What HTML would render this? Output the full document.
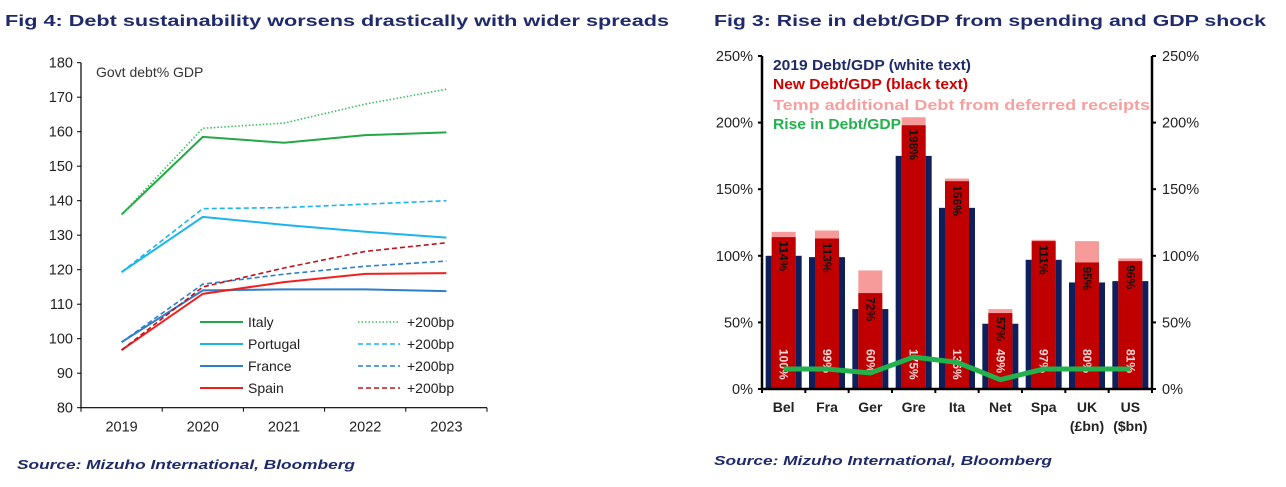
<!DOCTYPE html>
<html><head><meta charset="utf-8"><style>
body{margin:0;background:#fff;width:1286px;height:487px;overflow:hidden;font-family:"Liberation Sans",Arial,sans-serif}
svg{position:absolute;left:0;top:0}
</style></head><body>
<svg id="s" width="1286" height="487" xmlns="http://www.w3.org/2000/svg" font-family="Liberation Sans, Arial, sans-serif">
<text x="5" y="26" font-size="16" font-weight="bold" fill="#1f2a6b" textLength="664" lengthAdjust="spacingAndGlyphs">Fig 4: Debt sustainability worsens drastically with wider spreads</text>
<text x="714" y="26" font-size="16" font-weight="bold" fill="#1f2a6b" textLength="552" lengthAdjust="spacingAndGlyphs">Fig 3: Rise in debt/GDP from spending and GDP shock</text>
<text x="17" y="469" font-size="13" font-weight="bold" font-style="italic" fill="#1f2a6b" textLength="338" lengthAdjust="spacingAndGlyphs">Source:  Mizuho International, Bloomberg</text>
<text x="714" y="465" font-size="13" font-weight="bold" font-style="italic" fill="#1f2a6b" textLength="338" lengthAdjust="spacingAndGlyphs">Source:  Mizuho International, Bloomberg</text>
<g id="left"></g><g id="right"></g>
</svg>
<script>
const NS="http://www.w3.org/2000/svg";
function mk(p,t,a){const e=document.createElementNS(NS,t);for(const k in a)e.setAttribute(k,a[k]);p.appendChild(e);return e;}
// ---- Left chart data ----
const years=["2019","2020","2021","2022","2023"];
const yTicksL=[80,90,100,110,120,130,140,150,160,170,180];
const italy=[136,158.5,156.8,159,159.8];
const italy200=[136,161,162.5,168,172.3];
const portugal=[119.3,135.3,133,131,129.3];
const portugal200=[119.3,137.7,138,139,140];
const france=[99,114,114.3,114.3,113.8];
const france200=[99,115.8,118.7,121,122.5];
const spain=[96.7,113,116.4,118.8,119];
const spain200=[96.7,115,120.5,125.3,127.8];
// ---- Right chart data ----
const countries=["Bel","Fra","Ger","Gre","Ita","Net","Spa","UK","US"];
const countries2=["","","","","","","","(£bn)","($bn)"];
const debt2019=[100,99,60,175,136,49,97,80,81];
const debtNew=[114,113,72,198,156,57,111,95,96];
const debtTemp=[118,119,89,204,158,60,112,111,98];
const riseDebt=[15,15,12,24,20,7,15,15,15];
const yTicksR=[0,50,100,150,200,250];

// left axes
const L=document.getElementById('left');
const lx0=81,lx1=487,ly0=407.7,ly1=62.7;
const ly=v=>ly0-(v-80)/100*(ly0-ly1);
const lx=i=>lx0+(i+0.5)*(lx1-lx0)/5;
let ax=mk(L,'line',{x1:lx0,y1:ly1,x2:lx0,y2:ly0,stroke:'#000','stroke-width':1.2});

ax=mk(L,'line',{x1:lx0,y1:ly0,x2:lx1,y2:ly0,stroke:'#000','stroke-width':1.2});

yTicksL.forEach(v=>{mk(L,'line',{x1:lx0-4,x2:lx0,y1:ly(v),y2:ly(v),stroke:'#000'});
 const t=mk(L,'text',{x:lx0-8,y:ly(v)+5,'text-anchor':'end','font-size':14.5,fill:'#222'});t.textContent=v;
 });
for(let i=0;i<=5;i++){const x=lx0+i*(lx1-lx0)/5;mk(L,'line',{x1:x,x2:x,y1:ly0,y2:ly0+4,stroke:'#000'});}
years.forEach((y,i)=>{const t=mk(L,'text',{x:lx(i),y:ly0+24,'text-anchor':'middle','font-size':14.5,fill:'#222'});t.textContent=y;
 });
let tt=mk(L,'text',{x:96,y:77,'font-size':14,fill:'#333'});tt.textContent='Govt debt% GDP';

const series=[
 [italy,'#22a845','','italy-line'],[italy200,'#3cbf5c','1.5 2','italy-200bp-line'],
 [portugal,'#1cb4ee','','portugal-line'],[portugal200,'#1cb4ee','5 3','portugal-200bp-line'],
 [france,'#2f7ec9','','france-line'],[france200,'#2f7ec9','5 3','france-200bp-line'],
 [spain,'#f0201f','','spain-line'],[spain200,'#c0141c','5 3','spain-200bp-line']];
series.forEach(s=>{const p=mk(L,'polyline',{points:s[0].map((v,i)=>lx(i)+','+ly(v)).join(' '),fill:'none',stroke:s[1],'stroke-width':s[2]?1.6:2,'stroke-dasharray':s[2]});
 });
const leg=[['Italy','#22a845','1.5 2'],['Portugal','#1cb4ee','5 3'],['France','#2f7ec9','5 3'],['Spain','#f0201f','5 3']];
const legDash=['#3cbf5c','#1cb4ee','#2f7ec9','#c0141c'];
leg.forEach((l,i)=>{const y=322+i*22;
 const g=mk(L,'g',{});
 mk(g,'line',{x1:200,x2:243,y1:y,y2:y,stroke:l[1],'stroke-width':2});
 let t=mk(g,'text',{x:248,y:y+5,'font-size':14,fill:'#222'});t.textContent=l[0];
 mk(g,'line',{x1:358,x2:400,y1:y,y2:y,stroke:legDash[i],'stroke-width':1.6,'stroke-dasharray':l[2]});
 t=mk(g,'text',{x:407,y:y+5,'font-size':14,fill:'#222'});t.textContent='+200bp';});

// right chart
const R=document.getElementById('right');
const rx0=762,rx1=1152,ry0=389,ry1=56;
const ry=v=>ry0-v/250*(ry0-ry1);
const step=(rx1-rx0)/countries.length;
const rx=i=>rx0+(i+0.5)*step;
ax=mk(R,'line',{x1:rx0,y1:ry1,x2:rx0,y2:ry0,stroke:'#000','stroke-width':2.5});

ax=mk(R,'line',{x1:rx1,y1:ry1,x2:rx1,y2:ry0,stroke:'#000','stroke-width':2.5});

yTicksR.forEach(v=>{mk(R,'line',{x1:rx0-4,x2:rx0,y1:ry(v),y2:ry(v),stroke:'#000','stroke-width':2});
 mk(R,'line',{x1:rx1,x2:rx1+4,y1:ry(v),y2:ry(v),stroke:'#000','stroke-width':2});
 let t=mk(R,'text',{x:rx0-9,y:ry(v)+5,'text-anchor':'end','font-size':14.5,fill:'#222'});t.textContent=v+'%';
 
 t=mk(R,'text',{x:rx1+10,y:ry(v)+5,'font-size':14.5,fill:'#222'});t.textContent=v+'%';
 });
countries.forEach((c,i)=>{const cx=rx(i);
 const g=mk(R,'g',{});
 let r=mk(g,'rect',{x:cx-18,y:ry(debt2019[i]),width:36,height:ry0-ry(debt2019[i]),fill:'#0f1f5c'});
 
 r=mk(g,'rect',{x:cx-12,y:ry(debtTemp[i]),width:24,height:ry0-ry(debtTemp[i]),fill:'#f79a9a'});
 
 r=mk(g,'rect',{x:cx-12,y:ry(debtNew[i]),width:24,height:ry0-ry(debtNew[i]),fill:'#c00000'});
 
 let t=mk(g,'text',{x:0,y:0,'font-size':12,'font-weight':'bold',fill:'#111',transform:`translate(${cx-4},${ry(debtNew[i])+4}) rotate(90)`});t.textContent=debtNew[i]+'%';
 t=mk(g,'text',{x:0,y:0,'font-size':12,'font-weight':'bold',fill:'#fff',opacity:0.85,transform:`translate(${cx-4},${ry(0)-40}) rotate(90)`});t.textContent=debt2019[i]+'%';
 t=mk(R,'text',{x:cx,y:ry0+23,'text-anchor':'middle','font-size':14,'font-weight':'bold',fill:'#222'});t.textContent=c;
 
 if(countries2[i]){t=mk(R,'text',{x:cx,y:ry0+42,'text-anchor':'middle','font-size':14,'font-weight':'bold',fill:'#222'});t.textContent=countries2[i];}});
mk(R,'line',{x1:rx0,x2:rx1,y1:ry0,y2:ry0,stroke:'#000','stroke-width':2.5});
for(let i=0;i<=countries.length;i++){const x=rx0+i*step;mk(R,'line',{x1:x,x2:x,y1:ry0,y2:ry0+4,stroke:'#000','stroke-width':2});}
const rl=mk(R,'polyline',{points:riseDebt.map((v,i)=>rx(i)+','+ry(v)).join(' '),fill:'none',stroke:'#22b14c','stroke-width':5});

[['2019 Debt/GDP (white text)','#1f2a6b',70,198],['New Debt/GDP (black text)','#d00000',89,195],['Temp additional Debt from deferred receipts','#f7a0a0',110,377],['Rise in Debt/GDP','#22b14c',129,128]].forEach(l=>{
 const t=mk(R,'text',{x:773,y:l[2],'font-size':15,'font-weight':'bold',fill:l[1],textLength:l[3],lengthAdjust:'spacingAndGlyphs'});t.textContent=l[0];
 });
</script>
</body></html>
